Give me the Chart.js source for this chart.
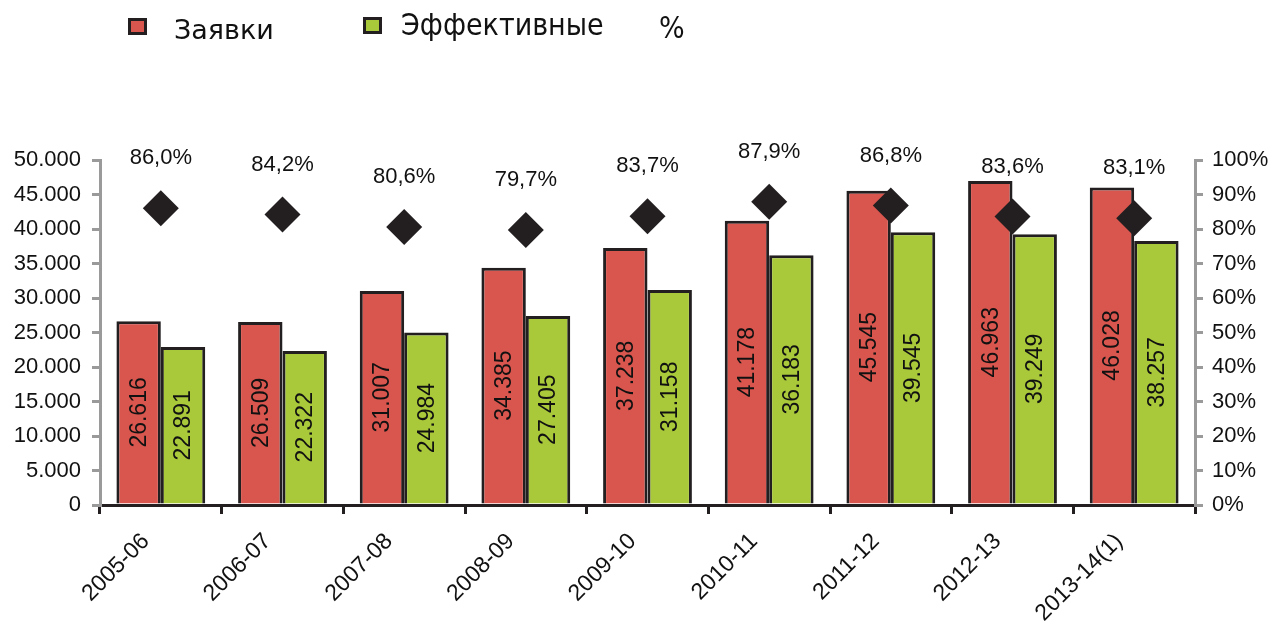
<!DOCTYPE html>
<html>
<head>
<meta charset="utf-8">
<script src="https://cdn.jsdelivr.net/npm/chart.js@4"></script>
<style>
    body { margin: 0; background: #fff; }
    #wrap { position: relative; width: 1272px; height: 624px; }
    #chart { position: absolute; left: 0; top: 0; }
    .lg-box { position: absolute; width: 19px; height: 17px; box-sizing: border-box; border: 3px solid #231f20; }
    .lg-txt { position: absolute; font-family: "DejaVu Sans Condensed", "DejaVu Sans", sans-serif; font-size: 30px; line-height: 30px; color: #111; white-space: nowrap; }
</style>
</head>
<body>
<div id="wrap">
    <canvas id="chart" width="1272" height="624"></canvas>
    <div class="lg-box" style="left:128px; top:18px; background:#d9564f;"></div>
    <div class="lg-txt" style="left:174px; top:16px; font-family:'DejaVu Sans', sans-serif; font-size:27px; line-height:27px;">Заявки</div>
    <div class="lg-box" style="left:363px; top:17px; background:#a9c93a;"></div>
    <div class="lg-txt" style="left:401px; top:10px;">Эффективные</div>
    <div class="lg-txt" style="left:659px; top:13px;">%</div>
</div>
<script>
// chart data
const seasons = ['2005-06', '2006-07', '2007-08', '2008-09', '2009-10', '2010-11', '2011-12', '2012-13', '2013-14(1)']
const applications = [26616, 26509, 31007, 34385, 37238, 41178, 45545, 46963, 46028]
const effective = [22891, 22322, 24984, 27405, 31158, 36183, 39545, 39249, 38257]
const shares = [86.0, 84.2, 80.6, 79.7, 83.7, 87.9, 86.8, 83.6, 83.1]

const ink = '#231f20'
const axisGray = '#9a9a9a'
const font = 'Liberation Sans, Arial, sans-serif'

// 26616 -> "26.616"
let fmtThousands = function(v) {
    return String(v).replace(/\B(?=(\d{3})+(?!\d))/g, '.')
}

// Value labels: vertical numbers inside the bars, percentages above the diamonds
const valueLabels = {
    id: 'valueLabels',
    afterDatasetsDraw(chart) {
        let c = chart.ctx
        c.save()
        c.fillStyle = '#111'
        c.textAlign = 'center'
        c.textBaseline = 'middle'
        chart.data.datasets.forEach((ds, i) => {
            let meta = chart.getDatasetMeta(i)
            meta.data.forEach((el, j) => {
                if (ds.type === 'line') {
                    c.font = '22px ' + font
                    c.fillText(ds.data[j].toFixed(1).replace('.', ',') + '%', el.x, el.y - 50)
                } else {
                    c.save()
                    c.font = '23px ' + font
                    c.translate(el.x, (el.y + el.base) / 2)
                    c.rotate(-Math.PI / 2)
                    c.fillText(fmtThousands(ds.data[j]), 0, 1)
                    c.restore()
                }
            })
        })
        c.restore()
    }
}

let ctx = document.getElementById('chart')
let chart = new Chart(ctx, {
    type: 'bar',
    data: {
        labels: seasons,
        datasets: [
            {
                type: 'line',
                label: '%',
                data: shares,
                yAxisID: 'y1',
                showLine: false,
                pointStyle: 'rectRot',
                pointRadius: 18,
                pointBackgroundColor: ink,
                pointBorderColor: ink,
                pointBorderWidth: 0,
                order: 0
            },
            {
                label: 'Заявки',
                data: applications,
                backgroundColor: '#d9564f',
                borderColor: ink,
                borderWidth: 3,
                order: 1
            },
            {
                label: 'Эффективные',
                data: effective,
                backgroundColor: '#a9c93a',
                borderColor: ink,
                borderWidth: 3,
                order: 1
            }
        ]
    },
    options: {
        responsive: false,
        animation: false,
        layout: { padding: { top: 160, left: 0, right: 0, bottom: 0 } },
        categoryPercentage: 0.73,
        barPercentage: 1,
        plugins: {
            legend: { display: false },
            tooltip: { enabled: false }
        },
        scales: {
            x: {
                grid: { offset: true, drawOnChartArea: false, color: ink, lineWidth: 3, tickLength: 9 },
                border: { color: ink, width: 3 },
                ticks: { minRotation: 45, maxRotation: 45, color: '#111', padding: 14, labelOffset: -15, font: { family: font, size: 23 } },
                afterFit: function(scale) { scale.height = 119 }
            },
            y: {
                min: 0,
                max: 50000,
                ticks: { stepSize: 5000, color: '#111', padding: 11, font: { family: font, size: 22 }, callback: v => fmtThousands(v) },
                grid: { drawOnChartArea: false, color: axisGray, lineWidth: 3, tickLength: 8 },
                border: { color: axisGray, width: 3 },
                afterFit: function(scale) { scale.width = 100 }
            },
            y1: {
                position: 'right',
                min: 0,
                max: 100,
                ticks: { stepSize: 10, color: '#111', padding: 9, font: { family: font, size: 22 }, callback: v => v + '%' },
                grid: { drawOnChartArea: false, color: axisGray, lineWidth: 3, tickLength: 8 },
                border: { color: axisGray, width: 3 },
                afterFit: function(scale) { scale.width = 77 }
            }
        }
    },
    plugins: [valueLabels]
})
</script>
</body>
</html>
